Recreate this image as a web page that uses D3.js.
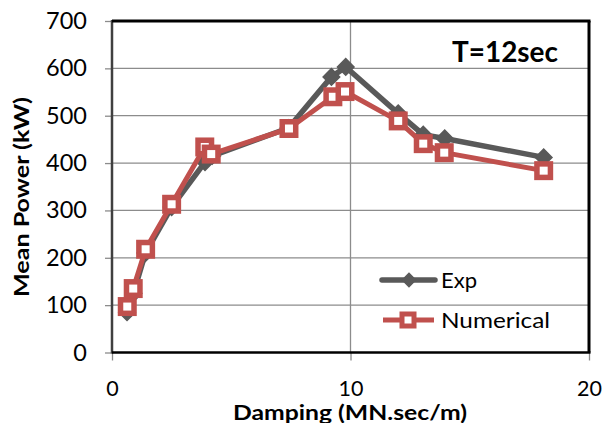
<!DOCTYPE html>
<html><head><meta charset="utf-8">
<script src="https://cdn.jsdelivr.net/npm/d3@7"></script>
<style>body{margin:0;background:#fff}svg{display:block}text{font-family:Lato,"Open Sans",sans-serif}</style>
</head><body>
<script>
const expX = [0.63, 0.9, 1.4, 2.5, 3.9, 4.2, 7.4, 9.2, 9.8, 12.0, 13.05, 13.95, 18.1];
const expY = [85, 125, 210, 307, 402, 415, 474, 582, 603, 505, 460, 452, 412];
const numX = [0.64, 0.89, 1.41, 2.5, 3.89, 4.16, 7.42, 9.26, 9.77, 12.0, 13.05, 13.93, 18.1];
const numY = [97, 135, 218, 313, 434, 419, 473, 540, 551, 489, 441, 422, 384];
const xTicks = [0, 10, 20];
const yTicks = [0, 100, 200, 300, 400, 500, 600, 700];

const W = 605, H = 423;
const L = 112, R = 589, T = 21, B = 352.5;
const svg = d3.select("body").append("svg").attr("width", W).attr("height", H);
const x = d3.scaleLinear().domain([0, 20]).range([L, R]);
const y = d3.scaleLinear().domain([0, 700]).range([B, T]);

// gridlines
svg.append("g").selectAll("line").data(yTicks.slice(1)).join("line")
  .attr("x1", L).attr("x2", R).attr("y1", d => y(d)).attr("y2", d => y(d))
  .attr("stroke", "#8c8c8c").attr("stroke-width", 1.3);
svg.append("g").selectAll("line").data(xTicks.slice(1, -1)).join("line")
  .attr("y1", T).attr("y2", B).attr("x1", d => x(d)).attr("x2", d => x(d))
  .attr("stroke", "#8c8c8c").attr("stroke-width", 1.3);

// axes
const yAxis = svg.append("g").attr("transform", `translate(${L},0)`)
  .call(d3.axisLeft(y).tickValues(yTicks).tickSize(7).tickPadding(18));
const xAxis = svg.append("g").attr("transform", `translate(0,${B})`)
  .call(d3.axisBottom(x).tickValues(xTicks).tickSize(8).tickPadding(20));
[yAxis, xAxis].forEach(a => {
  a.select(".domain").remove();
  a.selectAll(".tick line").attr("stroke", "#8c8c8c").attr("stroke-width", 1.3);
  a.selectAll(".tick text").attr("fill", "#000")
    .style("font-family", "Lato, 'Open Sans', sans-serif");
});
yAxis.selectAll(".tick text").attr("font-size", 23.5);
xAxis.selectAll(".tick text").attr("font-size", 21.5);

// frame
svg.append("line").attr("x1", L).attr("x2", L).attr("y1", T - 1).attr("y2", B + 1).attr("stroke", "#404040").attr("stroke-width", 2.5);
svg.append("line").attr("x1", L).attr("x2", R + 1.5).attr("y1", T).attr("y2", T).attr("stroke", "#000").attr("stroke-width", 3);
svg.append("line").attr("x1", R).attr("x2", R).attr("y1", T).attr("y2", B).attr("stroke", "#000").attr("stroke-width", 3);
svg.append("line").attr("x1", L).attr("x2", R + 1.5).attr("y1", B).attr("y2", B).attr("stroke", "#000").attr("stroke-width", 2.5);

const line = d3.line().x(d => x(d[0])).y(d => y(d[1]));
const expData = expX.map((v, i) => [v, expY[i]]);
const numData = numX.map((v, i) => [v, numY[i]]);
const grey = "#595959", red = "#C0504D";

svg.append("path").datum(expData).attr("d", line).attr("fill", "none").attr("stroke", grey).attr("stroke-width", 5.5).attr("stroke-linejoin", "round");
svg.append("g").selectAll("path").data(expData).join("path")
  .attr("d", d3.symbol().type(d3.symbolSquare2).size(175))
  .attr("transform", d => `translate(${x(d[0])},${y(d[1])}) rotate(45)`)
  .attr("fill", grey).attr("stroke", grey).attr("stroke-width", 1.5);

svg.append("path").datum(numData).attr("d", line).attr("fill", "none").attr("stroke", red).attr("stroke-width", 5).attr("stroke-linejoin", "round");
svg.append("g").selectAll("rect").data(numData).join("rect")
  .attr("x", d => x(d[0]) - 6.75).attr("y", d => y(d[1]) - 6.75).attr("width", 13.5).attr("height", 13.5)
  .attr("fill", "#fff").attr("stroke", red).attr("stroke-width", 5.5);

// legend
const lg = svg.append("g");
lg.append("line").attr("x1", 382).attr("x2", 435).attr("y1", 280).attr("y2", 280).attr("stroke", grey).attr("stroke-width", 5.5).attr("stroke-linecap", "round");
lg.append("path").attr("d", d3.symbol().type(d3.symbolSquare2).size(110)).attr("transform", "translate(409,280) rotate(45)").attr("fill", grey).attr("stroke", grey).attr("stroke-width", 1.5);
lg.append("text").attr("x", 441).attr("y", 288).attr("font-size", 21).attr("textLength", 36).attr("lengthAdjust", "spacingAndGlyphs").text("Exp");
lg.append("line").attr("x1", 383).attr("x2", 434).attr("y1", 320).attr("y2", 320).attr("stroke", red).attr("stroke-width", 5);
lg.append("rect").attr("x", 402).attr("y", 314).attr("width", 12).attr("height", 12).attr("fill", "#fff").attr("stroke", red).attr("stroke-width", 5);
lg.append("text").attr("x", 441).attr("y", 327.5).attr("font-size", 21).attr("textLength", 109).attr("lengthAdjust", "spacingAndGlyphs").text("Numerical");

// title
svg.append("text").attr("x", 452).attr("y", 62.3).attr("font-size", 28).attr("font-weight", "bold")
  .attr("textLength", 106).attr("lengthAdjust", "spacingAndGlyphs").text("T=12sec");

// axis titles
svg.append("text").attr("x", 233).attr("y", 420).attr("font-size", 20).attr("font-weight", "bold")
  .attr("textLength", 234).attr("lengthAdjust", "spacingAndGlyphs").text("Damping (MN.sec/m)");
svg.append("text").attr("transform", "translate(28.5,297) rotate(-90)").attr("font-size", 21.5).attr("font-weight", "bold")
  .attr("textLength", 200).attr("lengthAdjust", "spacingAndGlyphs").text("Mean Power (kW)");
</script>
</body></html>
